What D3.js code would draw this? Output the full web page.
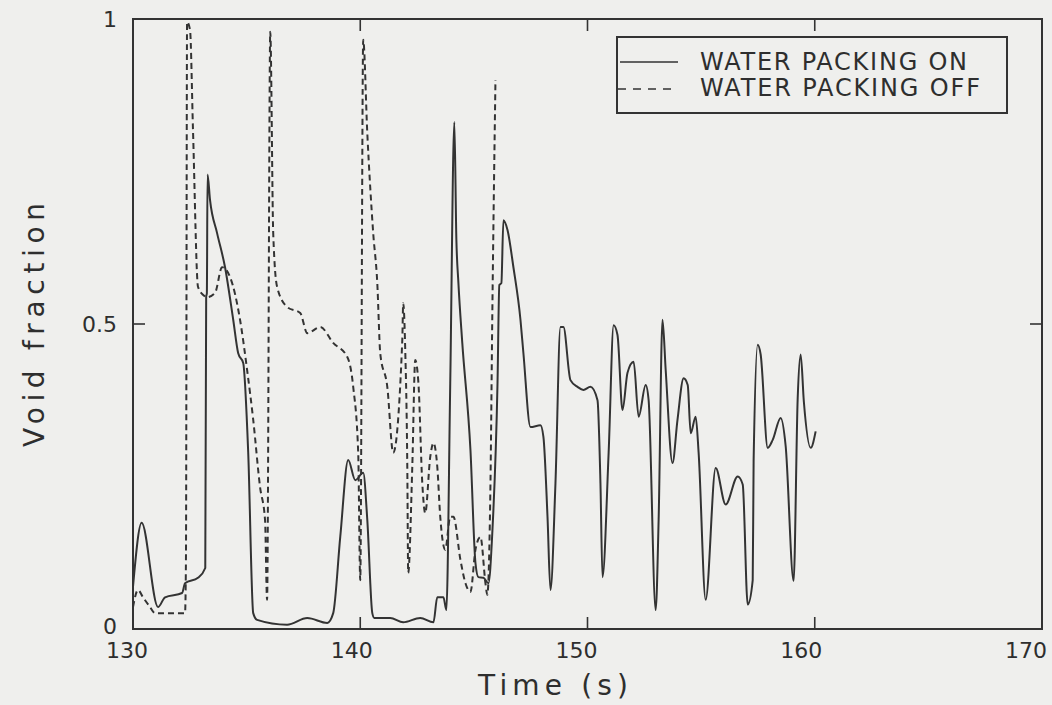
<!DOCTYPE html>
<html lang="en">
<head>
<meta charset="UTF-8">
<title>Void fraction vs time</title>
<script src="https://d3js.org/d3.v7.min.js"></script>
<style>
  body { margin: 0; background: #efefed; overflow: hidden; }
  svg { display: block; }
  text { font-family: 'DejaVu Sans', sans-serif; fill: #2e2e2e; }
</style>
</head>
<body>
<div id="chart"></div>
<script>
// --- data ---
const xTicks = [130, 140, 150, 160, 170];
const yTicks = [0, 0.5, 1];
const yTickLabels = ["0", "0.5", "1"];
const seriesNames = ["WATER PACKING ON", "WATER PACKING OFF"];

// water packing on (solid)
const onTime = [130.0, 130.38, 131.1, 131.41, 132.16, 132.29, 132.86, 133.18, 133.22, 133.25, 133.28,
  133.39, 133.7, 134.05, 134.41, 134.63, 134.85, 135.07, 135.29, 135.46, 136.78, 137.67, 138.55,
  138.81, 139.12, 139.47, 139.78, 140.13, 140.31, 140.53, 140.62, 141.32, 141.89, 142.64, 143.22,
  143.39, 143.66, 143.79, 143.96, 144.14, 144.23, 144.32, 144.49, 144.85, 145.07, 145.2, 145.42,
  145.64, 145.81, 146.04, 146.12, 146.21, 146.3, 146.48, 146.74, 147.05, 147.18, 147.49, 147.93,
  148.06, 148.24, 148.37, 148.59, 148.81, 148.94, 149.25, 149.56, 149.82, 150.13, 150.44, 150.57,
  150.66, 150.93, 151.15, 151.32, 151.54, 151.76, 152.03, 152.25, 152.56, 152.69, 153.0, 153.13,
  153.3, 153.44, 153.74, 153.96, 154.23, 154.41, 154.54, 154.76, 154.89, 155.2, 155.64, 156.08,
  156.61, 156.83, 157.05, 157.27, 157.31, 157.49, 157.62, 157.93, 158.15, 158.5, 158.72, 159.07,
  159.25, 159.38, 159.52, 159.82, 160.04];
const onVoid = [0.069, 0.174, 0.036, 0.052, 0.059, 0.075, 0.084, 0.10, 0.545, 0.55, 0.745,
  0.703, 0.649, 0.593, 0.507, 0.452, 0.436, 0.289, 0.026, 0.015, 0.007, 0.018, 0.010,
  0.026, 0.151, 0.277, 0.244, 0.256, 0.179, 0.026, 0.018, 0.018, 0.011, 0.018, 0.011,
  0.052, 0.052, 0.031, 0.403, 0.831, 0.638, 0.567, 0.469, 0.293, 0.108, 0.085, 0.084,
  0.075, 0.157, 0.403, 0.564, 0.567, 0.670, 0.654, 0.593, 0.507, 0.452, 0.331, 0.334,
  0.315, 0.184, 0.064, 0.239, 0.495, 0.495, 0.408, 0.397, 0.392, 0.397, 0.375, 0.239,
  0.085, 0.289, 0.498, 0.482, 0.359, 0.420, 0.438, 0.348, 0.400, 0.375, 0.031, 0.179,
  0.507, 0.425, 0.272, 0.343, 0.411, 0.400, 0.321, 0.348, 0.289, 0.048, 0.264, 0.204,
  0.25, 0.237, 0.04, 0.08, 0.275, 0.466, 0.45, 0.297, 0.31, 0.346, 0.30, 0.079,
  0.379, 0.45, 0.373, 0.297, 0.324];

// water packing off (dashed)
const offTime = [130.0, 130.22, 130.44, 130.75, 130.97, 131.5, 132.29, 132.33, 132.38, 132.51, 132.64,
  132.86, 133.08, 133.26, 133.61, 133.92, 134.27, 134.71, 135.02, 135.29, 135.59, 135.81, 135.9,
  136.04, 136.17, 136.34, 136.78, 137.36, 137.67, 138.24, 138.81, 139.43, 139.69, 139.91, 140.0,
  140.13, 140.31, 140.57, 140.75, 140.88, 141.19, 141.45, 141.85, 141.89, 141.98, 142.07, 142.11,
  142.29, 142.42, 142.56, 142.73, 142.86, 143.08, 143.22, 143.39, 143.52, 143.74, 143.96, 144.1,
  144.41, 144.63, 144.85, 145.07, 145.29, 145.51, 145.59, 145.73, 145.81, 145.95];
const offVoid = [0.036, 0.064, 0.052, 0.036, 0.026, 0.026, 0.026, 0.113, 0.995, 0.982, 0.818,
  0.561, 0.548, 0.544, 0.551, 0.593, 0.577, 0.507, 0.425, 0.343, 0.233, 0.179, 0.048,
  0.979, 0.649, 0.561, 0.528, 0.518, 0.485, 0.495, 0.469, 0.446, 0.397, 0.289, 0.080,
  0.966, 0.813, 0.649, 0.567, 0.452, 0.397, 0.289, 0.474, 0.534, 0.457, 0.266, 0.092,
  0.266, 0.441, 0.403, 0.239, 0.190, 0.282, 0.305, 0.266, 0.184, 0.130, 0.184, 0.184,
  0.113, 0.075, 0.061, 0.130, 0.151, 0.075, 0.056, 0.239, 0.511, 0.90];

const width = 1052, height = 705;
const plot = { left: 133, right: 1042, top: 19, bottom: 629 };
const ink = "#333";

const svg = d3.select("#chart").append("svg")
  .attr("width", width)
  .attr("height", height);

const x = d3.scaleLinear().domain([130, 170]).range([plot.left, plot.right]);
const y = d3.scaleLinear().domain([0, 1]).range([plot.bottom, plot.top]);

// frame
svg.append("rect")
  .attr("x", plot.left).attr("y", plot.top)
  .attr("width", plot.right - plot.left).attr("height", plot.bottom - plot.top)
  .attr("fill", "none").attr("stroke", ink).attr("stroke-width", 2);

// inward ticks on all four sides
const tickLen = 12;
const innerX = xTicks.slice(1, -1), innerY = [0.5];
const tickG = svg.append("g").attr("stroke", ink).attr("stroke-width", 1.6);
innerX.forEach(t => {
  tickG.append("line").attr("x1", x(t)).attr("x2", x(t)).attr("y1", plot.bottom).attr("y2", plot.bottom - tickLen);
  tickG.append("line").attr("x1", x(t)).attr("x2", x(t)).attr("y1", plot.top).attr("y2", plot.top + tickLen);
});
innerY.forEach(v => {
  tickG.append("line").attr("x1", plot.left).attr("x2", plot.left + tickLen).attr("y1", y(v)).attr("y2", y(v));
  tickG.append("line").attr("x1", plot.right).attr("x2", plot.right - tickLen).attr("y1", y(v)).attr("y2", y(v));
});

// tick labels (the scan's labels sit a little left of their ticks)
svg.append("g").selectAll("text")
  .data(xTicks)
  .join("text")
  .attr("x", (d, i) => x(d) - 6 - i * 2.5)
  .attr("y", 658)
  .attr("text-anchor", "middle")
  .style("font-size", "22px")
  .text(d => d);

svg.append("g").selectAll("text")
  .data(yTicks)
  .join("text")
  .attr("x", 117)
  .attr("y", d => d === 0 ? y(d) + 5 : y(d) + 8)
  .attr("text-anchor", "end")
  .style("font-size", "22px")
  .text((d, i) => yTickLabels[i]);

// axis titles
svg.append("text")
  .attr("x", 553).attr("y", 695)
  .attr("text-anchor", "middle")
  .attr("textLength", 150).attr("lengthAdjust", "spacing")
  .style("font-size", "28px")
  .text("Time (s)");

svg.append("text")
  .attr("transform", "translate(44,325) rotate(-90)")
  .attr("text-anchor", "middle")
  .attr("textLength", 244).attr("lengthAdjust", "spacing")
  .style("font-size", "28px")
  .text("Void fraction");

// curves
const line = d3.line()
  .x(d => x(d[0]))
  .y(d => y(d[1]))
  .curve(d3.curveMonotoneX);

const onData = onTime.map((t, i) => [t, onVoid[i]]);
const offData = offTime.map((t, i) => [t, offVoid[i]]);

svg.append("path")
  .datum(offData)
  .attr("d", line)
  .attr("fill", "none")
  .attr("stroke", ink)
  .attr("stroke-width", 2)
  .attr("stroke-dasharray", "6,4");

svg.append("path")
  .datum(onData)
  .attr("d", line)
  .attr("fill", "none")
  .attr("stroke", ink)
  .attr("stroke-width", 2);

// legend
const lg = svg.append("g");
lg.append("rect")
  .attr("x", 617).attr("y", 37).attr("width", 390).attr("height", 76)
  .attr("fill", "#efefed").attr("stroke", ink).attr("stroke-width", 2);
lg.append("line").attr("x1", 620).attr("x2", 678).attr("y1", 62).attr("y2", 62)
  .attr("stroke", ink).attr("stroke-width", 1.6);
lg.append("line").attr("x1", 618).attr("x2", 678).attr("y1", 89).attr("y2", 89)
  .attr("stroke", ink).attr("stroke-width", 1.6).attr("stroke-dasharray", "8,7");
lg.selectAll("text.leg")
  .data(seriesNames)
  .join("text")
  .attr("class", "leg")
  .attr("x", 700)
  .attr("y", (d, i) => 70 + i * 26)
  .attr("textLength", (d, i) => i === 0 ? 267 : 280)
  .attr("lengthAdjust", "spacing")
  .style("font-size", "24px")
  .text(d => d);
</script>
</body>
</html>
